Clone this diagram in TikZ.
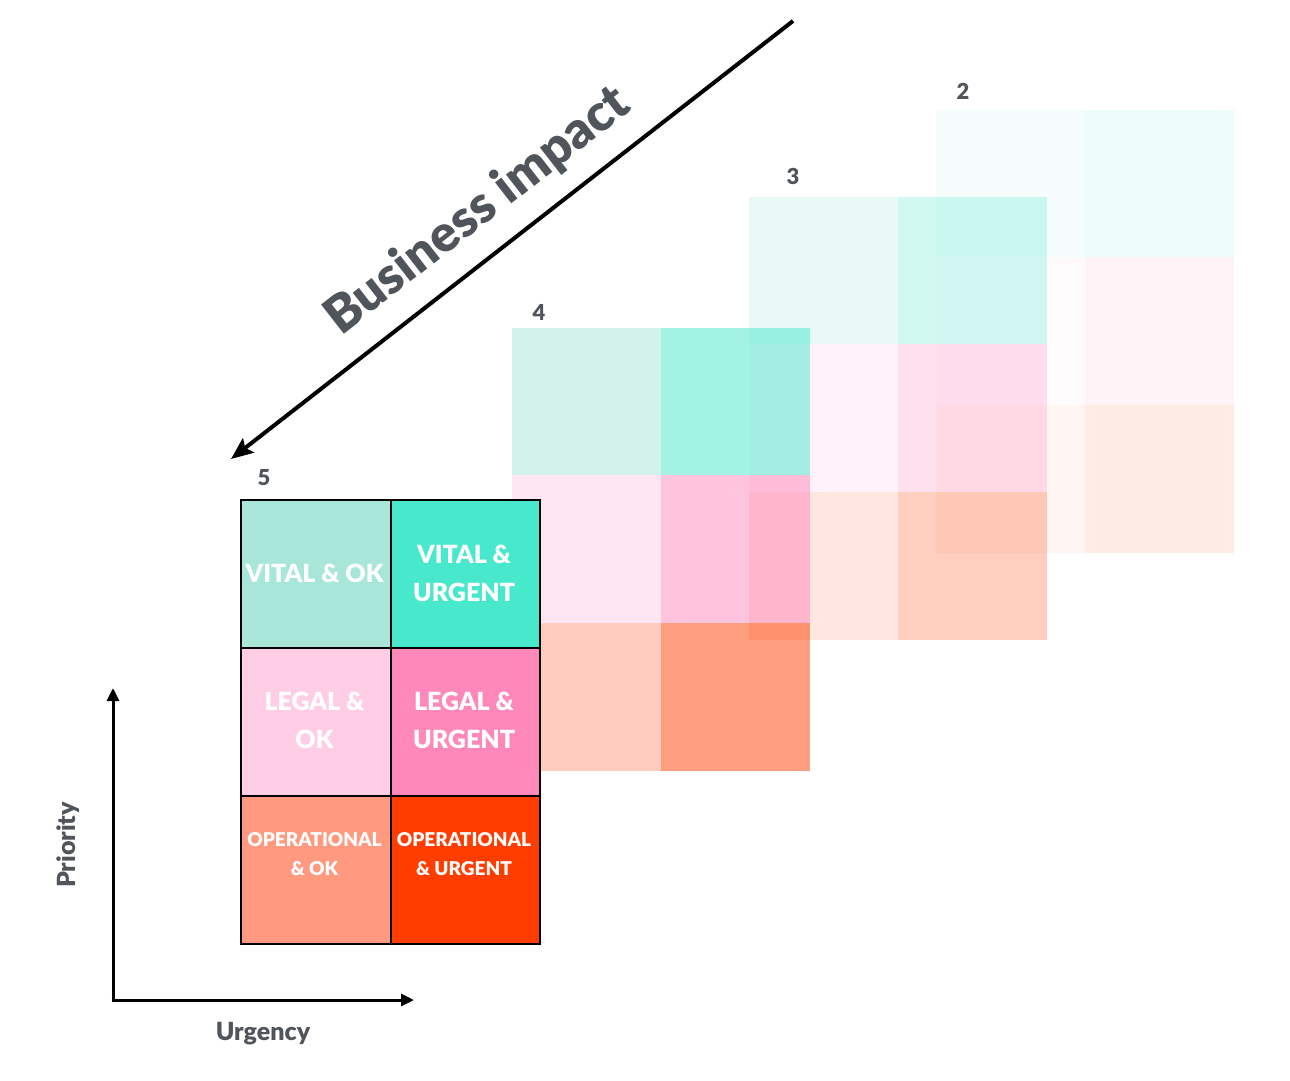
\documentclass[tikz,border=0pt]{standalone}
\usepackage{fontspec}
\setmainfont{Lato}
\newfontfamily\heavyfont{Lato Black}
\usetikzlibrary{arrows.meta}
\definecolor{vok}{HTML}{A8E6D9}
\definecolor{vurg}{HTML}{48E8CC}
\definecolor{lok}{HTML}{FFCDE6}
\definecolor{lurg}{HTML}{FF88BB}
\definecolor{ook}{HTML}{FF9A80}
\definecolor{ourg}{HTML}{FF3D00}
\definecolor{inkgray}{HTML}{50555C}
\tikzset{
  cell/.style={rectangle, draw=black, line width=2pt, inner sep=0pt, minimum width=149.5pt, minimum height=148pt, anchor=north west},
  celltext/.style={text=white, font=\heavyfont\fontsize{25}{38}\selectfont, align=center, inner sep=0pt},
  celltextsmall/.style={text=white, font=\heavyfont\fontsize{19}{29}\selectfont, align=center, inner sep=0pt},
  levellabel/.style={text=inkgray, font=\heavyfont\fontsize{22}{24}\selectfont, inner sep=0pt},
  axislabel/.style={text=inkgray, font=\heavyfont\fontsize{25}{28}\selectfont, inner sep=0pt},
  axisline/.style={line width=3pt, -{Triangle[length=13pt,width=12pt]}},
}
\newcommand{\backgrid}[3]{% x, y(top), opacity
  \begin{scope}[shift={(#1,#2)}, fill opacity=#3]
    \fill[vok]  (0,0) rectangle (149,147);
    \fill[vurg] (149,0) rectangle (298,147);
    \fill[lok]  (0,147) rectangle (149,295);
    \fill[lurg] (149,147) rectangle (298,295);
    \fill[ook]  (0,295) rectangle (149,443);
    \fill[ourg] (149,295) rectangle (298,443);
  \end{scope}
}
\begin{document}
\begin{tikzpicture}[x=1pt, y=-1pt]
\useasboundingbox (0,0) rectangle (1290,1080);
% back grids
\backgrid{936}{110}{0.1}
\backgrid{749}{197}{0.25}
\backgrid{512}{328}{0.5}
% level labels
\node[levellabel] (l2) at (963,91) {2};
\node[levellabel] (l3) at (793,176) {3};
\node[levellabel] (l4) at (539,312) {4};
\node[levellabel] (l5) at (264,478) {5};
% front grid
\node[cell, fill=vok]  (c11) at (240,499) {};
\node[cell, fill=vurg] (c12) at (389.5,499) {};
\node[cell, fill=lok]  (c21) at (240,646.5) {};
\node[cell, fill=lurg] (c22) at (389.5,646.5) {};
\node[cell, fill=ook]  (c31) at (240,794.5) {};
\node[cell, fill=ourg] (c32) at (389.5,794.5) {};
\node[celltext] (t11) at (314.5,573) {VITAL \& OK};
\node[celltext] (t12) at (464,573) {VITAL \&\\URGENT};
\node[celltext] (t21) at (314.5,720) {LEGAL \&\\OK};
\node[celltext] (t22) at (464,720) {LEGAL \&\\URGENT};
\node[celltextsmall] (t31) at (314.5,854) {OPERATIONAL\\\& OK};
\node[celltextsmall] (t32) at (464,854) {OPERATIONAL\\\& URGENT};
% business impact arrow
\coordinate (bstart) at (793,21);
\coordinate (bend) at (231,459);
\draw[line width=4pt, -{Stealth[length=22pt,width=18pt,inset=4pt]}] (bstart) -- (bend);
\node[text=inkgray, font=\heavyfont\fontsize{51}{54}\selectfont, rotate=37.9, inner sep=0pt] (bi) at (478,211) {Business impact};
% axes
\coordinate (origin) at (113,1000);
\coordinate (ytip) at (113,688);
\coordinate (xtip) at (414,1000);
\draw[axisline] (origin) -- (ytip);
\draw[axisline] ([xshift=-1.5pt]origin) -- (xtip);
\node[axislabel, rotate=90] (prio) at (68,845) {Priority};
\node[axislabel] (urg) at (263,1034) {Urgency};
\end{tikzpicture}
\end{document}
